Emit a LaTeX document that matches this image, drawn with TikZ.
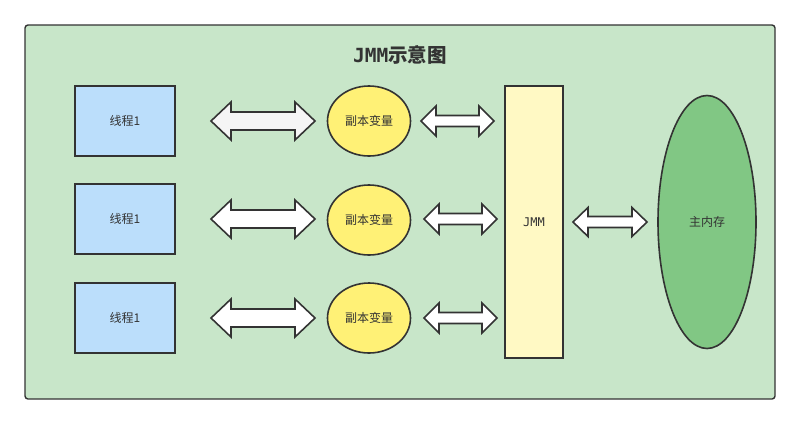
\documentclass[tikz,border=0pt]{standalone}
\usepackage{fontspec}
\usetikzlibrary{shapes.geometric}
\setmainfont{Noto Sans CJK SC}
\newfontfamily\cjk{Noto Sans CJK SC}
\newfontfamily\monof{DejaVu Sans Mono}
\definecolor{bgframe}{HTML}{C8E6C9}
\definecolor{edge}{HTML}{333333}
\definecolor{threadc}{HTML}{BBDEFB}
\definecolor{copyc}{HTML}{FFF176}
\definecolor{jmmc}{HTML}{FFF9C4}
\definecolor{mainc}{HTML}{81C784}
\definecolor{arrowc}{HTML}{F5F5F5}
\newcommand{\fatarrow}[7]{%
  \draw[arrowbox, fill=#7] (#1,#3) -- (#1+#6,#3-#4) -- (#1+#6,#3-#5) -- (#2-#6,#3-#5) -- (#2-#6,#3-#4) -- (#2,#3)
  -- (#2-#6,#3+#4) -- (#2-#6,#3+#5) -- (#1+#6,#3+#5) -- (#1+#6,#3+#4) -- cycle;}
\begin{document}
\begin{tikzpicture}[x=1pt,y=-1pt,
  threadbox/.style={draw=edge, line width=1.6pt, fill=threadc, minimum width=100pt, minimum height=70pt, inner sep=0pt, font=\cjk\fontsize{12pt}{14pt}\selectfont, text=edge},
  copybox/.style={draw=edge, line width=1.6pt, fill=copyc, ellipse, minimum width=83pt, minimum height=70pt, inner sep=0pt, font=\cjk\fontsize{12pt}{14pt}\selectfont, text=edge},
  arrowbox/.style={draw=edge, line width=1.6pt, line join=miter},
  lbl/.style={text=edge, inner sep=0pt}]
\useasboundingbox (0,0) rectangle (800,424);
\node[draw=edge, line width=1.4pt, fill=bgframe, rounded corners=3pt, minimum width=750pt, minimum height=374pt, inner sep=0pt] (frame) at (400,212) {};
\node[lbl, font=\fontsize{19.5pt}{22pt}\selectfont\bfseries] (title) at (400,55) {{\monof\bfseries JMM}\cjk 示意图};
\node[threadbox] (t1) at (125,121) {线程1};
\node[threadbox] (t2) at (125,219) {线程1};
\node[threadbox] (t3) at (125,318) {线程1};
\node[copybox] (c1) at (369,121) {副本变量};
\node[copybox] (c2) at (369,220) {副本变量};
\node[copybox] (c3) at (369,318) {副本变量};
\node[draw=edge, line width=1.6pt, fill=jmmc, minimum width=58pt, minimum height=272pt, inner sep=0pt, font=\monof\fontsize{12pt}{14pt}\selectfont, text=edge] (jmm) at (534,222) {JMM};
\node[draw=edge, line width=1.6pt, fill=mainc, ellipse, minimum width=98pt, minimum height=253pt, inner sep=0pt, font=\cjk\fontsize{12pt}{14pt}\selectfont, text=edge] (mem) at (707,222) {主内存};
\fatarrow{211}{315}{121}{19}{9}{20}{arrowc}
\fatarrow{211}{315}{219}{19}{9}{20}{white}
\fatarrow{211}{315}{318}{19}{9}{20}{white}
\fatarrow{421}{494}{121}{15}{5.5}{15}{white}
\fatarrow{424}{497}{219}{15}{5.5}{15}{white}
\fatarrow{424}{497}{318}{15}{5.5}{15}{white}
\fatarrow{573}{647}{222}{14.5}{5.5}{15}{white}
\end{tikzpicture}
\end{document}
